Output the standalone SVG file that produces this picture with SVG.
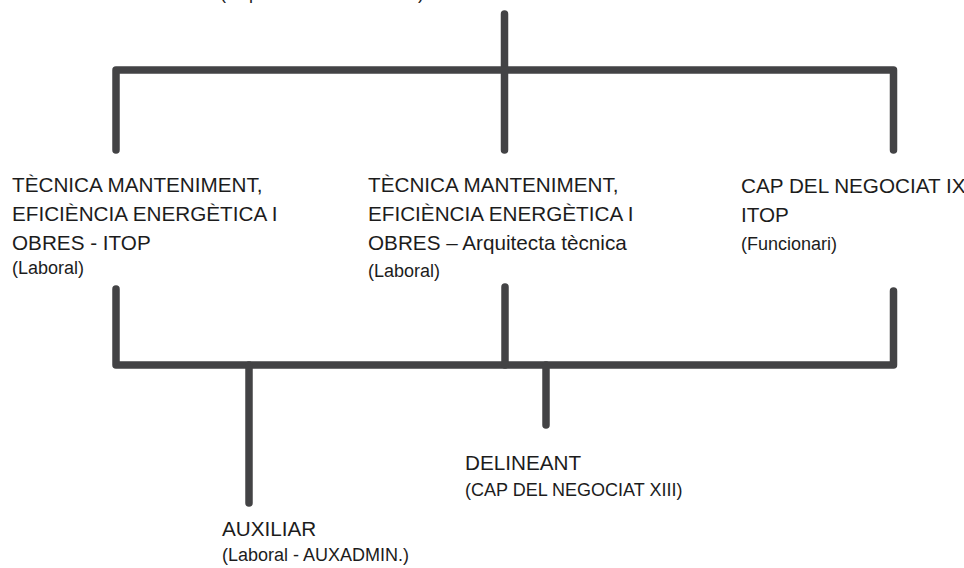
<svg xmlns="http://www.w3.org/2000/svg" width="964" height="568" viewBox="0 0 964 568">
<style>
.ln{fill:none;stroke:#434345;stroke-width:7.5;stroke-linecap:round;stroke-linejoin:round}
.t{font-family:"Liberation Sans",Arial,sans-serif;font-size:20.7px;fill:#1c1c1c}
.s{font-family:"Liberation Sans",Arial,sans-serif;font-size:18px;fill:#1c1c1c}
</style>
<rect width="964" height="568" fill="#ffffff"/>
<g id="top-node">
<text class="s" x="220" y="-1">(Cap Secció - Funcionari)</text>
</g>
<g id="connectors">
<path class="ln" d="M504.5 14 V70"/>
<path class="ln" d="M116 150 V70 H893.5 V150"/>
<path class="ln" d="M504.5 70 V150"/>
<path class="ln" d="M116 289 V365 H893.5 V291"/>
<path class="ln" d="M505 287 V365"/>
<path class="ln" d="M249 365 V503"/>
<path class="ln" d="M546 365 V425"/>
</g>
<g id="node-itop">
<text class="t" x="12" y="192">TÈCNICA MANTENIMENT,</text>
<text class="t" x="12" y="221">EFICIÈNCIA ENERGÈTICA I</text>
<text class="t" x="12" y="250">OBRES - ITOP</text>
<text class="s" x="12" y="274">(Laboral)</text>
</g>
<g id="node-arquitecta">
<text class="t" x="368" y="192">TÈCNICA MANTENIMENT,</text>
<text class="t" x="368" y="221">EFICIÈNCIA ENERGÈTICA I</text>
<text class="t" x="368" y="250">OBRES – Arquitecta tècnica</text>
<text class="s" x="368" y="277">(Laboral)</text>
</g>
<g id="node-cap-ix">
<text class="t" x="741" y="193">CAP DEL NEGOCIAT IX</text>
<text class="t" x="741" y="222">ITOP</text>
<text class="s" x="741" y="250">(Funcionari)</text>
</g>
<g id="node-delineant">
<text class="t" x="465" y="470">DELINEANT</text>
<text class="s" x="465" y="496">(CAP DEL NEGOCIAT XIII)</text>
</g>
<g id="node-auxiliar">
<text class="t" x="222" y="536">AUXILIAR</text>
<text class="s" x="222" y="561">(Laboral - AUXADMIN.)</text>
</g>
</svg>
